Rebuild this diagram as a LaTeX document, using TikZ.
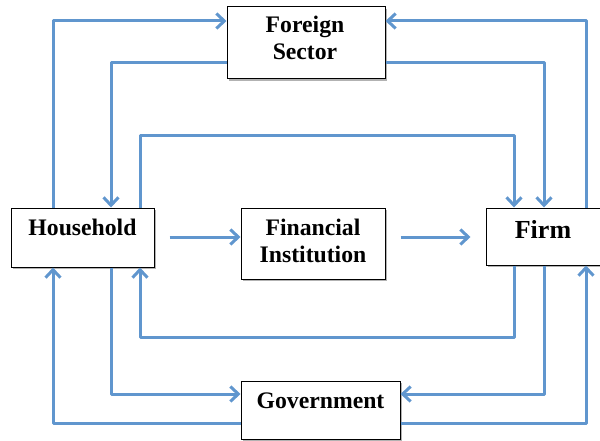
\documentclass[tikz,border=0pt]{standalone}
\usepackage{fontspec}
\setmainfont{Liberation Serif}
\usetikzlibrary{arrows.meta,shadows}
\definecolor{flow}{RGB}{96,150,206}
\begin{document}
\begin{tikzpicture}[x=1pt,y=-1pt,
  box/.style={draw=black,line width=1pt,fill=white,inner sep=0pt,
    drop shadow={shadow xshift=2pt,shadow yshift=-2pt,opacity=0.3,fill=black}},
  lbl/.style={font=\bfseries\fontsize{23.7}{27}\selectfont,align=center,inner sep=0pt,anchor=base},
  flowline/.style={draw=flow,line width=3pt,line join=round,
    -{Straight Barb[length=8pt,width=15pt,line width=3pt]}}]
\useasboundingbox (0,0) rectangle (600,441);
% boxes
\node[box,minimum width=158pt,minimum height=72pt] (fs) at (306,43) {};
\node[box,minimum width=143pt,minimum height=59pt] (hh) at (82.5,237.5) {};
\node[box,minimum width=144pt,minimum height=71pt] (fi) at (313,243.5) {};
\node[box,minimum width=115pt,minimum height=57pt] (fm) at (543.5,236.5) {};
\node[box,minimum width=159pt,minimum height=58pt] (gv) at (320.5,410) {};
% labels (base = baseline of last line)
\node[lbl] (fst) at (305,60) {Foreign\\Sector};
\node[lbl] (hht) at (82.5,235) {Household};
\node[lbl] (fit) at (313,262) {Financial\\Institution};
\node[lbl,font=\bfseries\fontsize{26}{30}\selectfont] (fmt) at (543,238) {Firm};
\node[lbl] (gvt) at (320.5,408) {Government};
% connectors
\draw[flowline] (hh.north -| 53,0) |- (fs.west |- 0,21);
\draw[flowline] (fs.west |- 0,63) -| (hh.north -| 111,0);
\draw[flowline] (hh.north -| 140,0) |- (514,136) -- (fm.north -| 514,0);
\draw[flowline] (fs.east |- 0,63) -| (fm.north -| 544,0);
\draw[flowline] (fm.north -| 586,0) |- (fs.east |- 0,21);
\draw[flowline,shorten <=15pt] (hh.east |- 0,237) -- (fi.west |- 0,237);
\draw[flowline,shorten <=15pt,shorten >=15pt] (fi.east |- 0,237) -- (fm.west |- 0,237);
\draw[flowline] (fm.south -| 514,0) |- (140,337) -- (hh.south -| 140,0);
\draw[flowline] (hh.south -| 111,0) |- (gv.west |- 0,394);
\draw[flowline] (gv.west |- 0,423) -| (hh.south -| 53,0);
\draw[flowline] (fm.south -| 544,0) |- (gv.east |- 0,394);
\draw[flowline] (gv.east |- 0,423) -| (fm.south -| 586,0);
\end{tikzpicture}
\end{document}
